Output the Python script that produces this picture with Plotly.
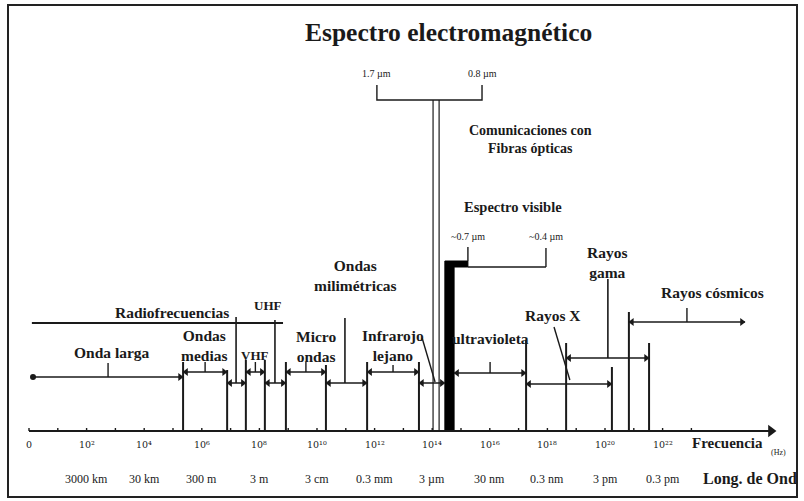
import plotly.graph_objects as go

# ---------- DADOS (frecuencias en log10 Hz) ----------
exp_ticks = [0, 2, 4, 6, 8, 10, 12, 14, 16, 18, 20, 22]
rotulos_freq = ["0", "10²", "10⁴", "10⁶", "10⁸", "10¹⁰", "10¹²",
                "10¹⁴", "10¹⁶", "10¹⁸", "10²⁰", "10²²"]
exp_menores = list(range(0, 24))
exp_long = [2, 4, 6, 8, 10, 12, 14, 16, 18, 20, 22]
rotulos_long = ["3000 km", "30 km", "300 m", "3 m", "3 cm", "0.3 mm",
                "3 µm", "30 nm", "0.3 nm", "3 pm", "0.3 pm"]

bandas = ["Onda larga", "Ondas<br>medias", "HF", "VHF", "UHF", "Micro<br>ondas",
          "Ondas<br>milimétricas", "Infrarojo<br>lejano", "IR cercano",
          "ultravioleta", "Rayos X", "Rayos<br>gama", "Rayos cósmicos"]
f_ini = [0.14, 5.35, 6.88, 7.53, 8.19, 8.92, 10.31, 11.74, 13.54, 14.76, 17.26, 18.65, 20.83]
f_fin = [5.35, 6.88, 7.53, 8.19, 8.92, 10.31, 11.74, 13.54, 14.44, 17.26, 20.24, 21.53, 24.86]

limites = [5.35, 6.88, 7.53, 8.19, 8.92, 10.31, 11.74, 13.54, 17.26, 18.65, 20.24, 20.83, 21.53]

radio = [0.10, 8.82]
fibra = [12.08, 15.73]
fibra_rotulos = ["1.7 µm", "0.8 µm"]
fibra_tallo = [14.03, 14.24]
visible = [14.44, 14.76]
vis_marcas = [15.24, 17.95]
vis_rotulos = ["~0.7 µm", "~0.4 µm"]
eje_fin = 25.97

# ---------- ESTILO / POSICIONES (y en pixeles, eje invertido) ----------
NEGRO = "#1a1a1a"
FUENTE = "Liberation Serif"
PX = 1 / 28.8          # un pixel en unidades de decada
Y_EJE = 431
T_BANDA = 15.5
alto_lim = [362, 370, 360, 360, 362, 365, 362, 362, 340, 343, 367, 312, 343]

dibujo = [
    dict(y=377, tipo="centro", top=363, lados="end", tx=2.88, ty=352),
    dict(y=372, tipo="centro", top=362, tx=6.11, ty=345),
    dict(y=383, tipo="puntero", px=7.19, top=317, tx=None),
    dict(y=372, tipo="centro", top=362, tx=7.86, ty=355, size=13),
    dict(y=383, tipo="puntero", px=8.54, top=320, tx=8.30, ty=305, size=13),
    dict(y=372, tipo="centro", top=362, tx=9.97, ty=346),
    dict(y=383, tipo="puntero", px=10.97, top=318, tx=11.32, ty=275),
    dict(y=372, tipo="centro", top=365, tx=11.49, ty=345, anc="left"),
    dict(y=383, tipo="diag", d=(13.65, 338, 14.10, 382), tx=None),
    dict(y=373, tipo="centro", top=362, tx=16.04, ty=338),
    dict(y=384, tipo="diag", d=(18.23, 327, 18.78, 380), tx=18.19, ty=315),
    dict(y=358, tipo="puntero", px=20.10, top=279, tx=19.31, ty=262, anc="left"),
    dict(y=322, tipo="centro", top=308, tx=23.72, ty=292),
]

fig = go.Figure()
segs = {}
puntas = {"triangle-left": ([], []), "triangle-right": ([], [])}


def linea(xs, ys, w=1.6):
    gx, gy = segs.setdefault(w, ([], []))
    gx.extend(list(xs) + [None])
    gy.extend(list(ys) + [None])


def flecha(x0, x1, y, izq=True, der=True, w=1.5):
    linea([x0, x1], [y, y], w)
    if izq:
        puntas["triangle-left"][0].append(x0 + 3 * PX)
        puntas["triangle-left"][1].append(y)
    if der:
        puntas["triangle-right"][0].append(x1 - 3 * PX)
        puntas["triangle-right"][1].append(y)


def texto(x, y, t, size=T_BANDA, bold=True, anc="center", familia=FUENTE):
    fig.add_annotation(x=x, y=y, text="<b>%s</b>" % t if bold else t, showarrow=False,
                       xref="x", yref="y", xanchor=anc, yanchor="middle",
                       font=dict(family=familia, size=size, color=NEGRO))


# eje de frecuencias
linea([0, eje_fin - 6 * PX], [Y_EJE, Y_EJE], 2)
fig.add_trace(go.Scatter(x=[eje_fin - 6 * PX], y=[Y_EJE], mode="markers", hoverinfo="skip",
                         marker=dict(symbol="triangle-right", size=11, color=NEGRO)))
for e in exp_menores:
    linea([e, e], [Y_EJE, Y_EJE - 3], 1.4)
for e, r in zip(exp_ticks, rotulos_freq):
    texto(e, 444, r, size=9.5, bold=False, familia="DejaVu Serif")
for e, r in zip(exp_long, rotulos_long):
    texto(e, 479, r, size=12, bold=False)

# limites de bandas
for e, top in zip(limites, alto_lim):
    linea([e, e], [Y_EJE, top], 2)

# bandas
for nombre, a, b, d in zip(bandas, f_ini, f_fin, dibujo):
    flecha(a, b, d["y"], izq=(d.get("lados") != "end"))
    if d["tipo"] == "centro":
        m = (a + b) / 2
        linea([m, m], [d["y"], d["top"]], 1.4)
    elif d["tipo"] == "puntero":
        linea([d["px"], d["px"]], [d["y"], d["top"]], 1.6)
    else:
        x0, y0, x1, y1 = d["d"]
        linea([x0, x1], [y0, y1], 1.4)
    if d["tx"] is not None:
        texto(d["tx"], d["ty"], nombre, size=d.get("size", T_BANDA), anc=d.get("anc", "center"))

# punto inicial de onda larga
fig.add_trace(go.Scatter(x=[f_ini[0]], y=[dibujo[0]["y"]], mode="markers",
                         marker=dict(size=6, color=NEGRO), hoverinfo="skip"))

# radiofrecuencias
linea(radio, [323, 323], 1.8)
texto(4.97, 312, "Radiofrecuencias")

# fibras opticas
for e in fibra_tallo:
    linea([e, e], [Y_EJE, 100], 1.2)
linea([fibra[0], fibra[0], fibra[1], fibra[1]], [85, 100, 100, 85], 1.4)
for e, r in zip(fibra, fibra_rotulos):
    texto(e, 73, r, size=10, bold=False)
texto(17.4, 139, "Comunicaciones con<br>Fibras ópticas", size=14)

# espectro visible
fig.add_trace(go.Scatter(
    x=[visible[0], visible[0], vis_marcas[0], vis_marcas[0], visible[1], visible[1], visible[0]],
    y=[Y_EJE, 261, 261, 267, 267, Y_EJE, Y_EJE],
    mode="lines", fill="toself", fillcolor="#000000", line=dict(color="#000000", width=1),
    hoverinfo="skip"))
linea([vis_marcas[0], vis_marcas[1]], [267, 267], 1.5)
linea([vis_marcas[0], vis_marcas[0]], [261, 247], 1.4)
linea([vis_marcas[1], vis_marcas[1]], [267, 248], 1.4)
for e, r in zip(vis_marcas, vis_rotulos):
    texto(e, 236, r, size=10, bold=False)
texto(16.8, 207, "Espectro visible", size=14.5)

for w, (gx, gy) in segs.items():
    fig.add_trace(go.Scatter(x=gx, y=gy, mode="lines", line=dict(color=NEGRO, width=w),
                             hoverinfo="skip"))
for simbolo, (gx, gy) in puntas.items():
    fig.add_trace(go.Scatter(x=gx, y=gy, mode="markers", hoverinfo="skip",
                             marker=dict(symbol=simbolo, size=7, color=NEGRO)))

# textos del eje
texto(24.24, 443, "Frecuencia", size=15)
texto(26.04, 452, "(Hz)", size=8, bold=False)
texto(25.03, 479, "Long. de Ond", size=16)

# titulo y marco
fig.add_annotation(x=448 / 804, y=1 - 33 / 501, xref="paper", yref="paper", showarrow=False,
                   yanchor="middle", text="<b>Espectro electromagnético</b>",
                   font=dict(family=FUENTE, size=25.5, color=NEGRO))
fig.add_shape(type="rect", xref="paper", yref="paper", x0=8 / 804, x1=797 / 804,
              y0=1 - 497 / 501, y1=1 - 5 / 501, line=dict(color="#222222", width=2))

fig.update_layout(
    width=804, height=501,
    margin=dict(l=0, r=0, t=0, b=0),
    showlegend=False,
    plot_bgcolor="white", paper_bgcolor="white",
    xaxis=dict(range=[-29 * PX, 775 * PX], visible=False, fixedrange=True),
    yaxis=dict(range=[501, 0], visible=False, fixedrange=True),
)

fig.write_html("out.html", config={"displayModeBar": False},
               post_script="document.body.style.margin='0';")
